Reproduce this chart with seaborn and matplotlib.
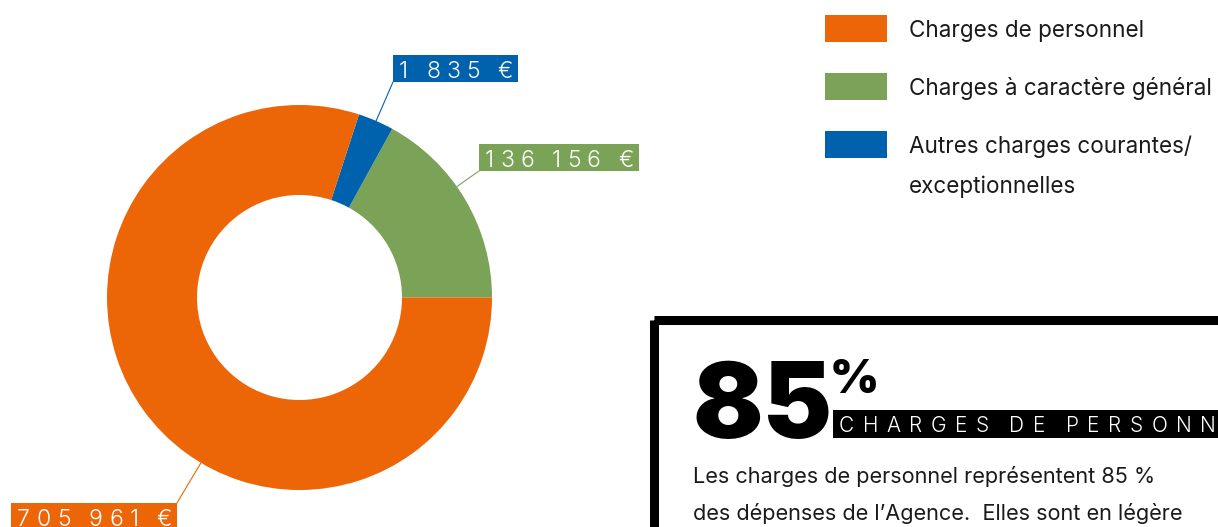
import numpy as np
import matplotlib.pyplot as plt
import matplotlib.patches as mpatches
import seaborn as sns

sns.set_theme(style="white")
plt.rcParams['font.family'] = ['Inter', 'DejaVu Sans']

# Data
categories = ["Charges de personnel",
              "Charges à caractère général",
              "Autres charges courantes/\nexceptionnelles"]
amounts = ["705 961 €", "136 156 €", "1 835 €"]
shares = [80.0, 17.0, 3.0]  # share of the ring as drawn (%)
colors = sns.color_palette(["#EC6608", "#7BA357", "#0062AC"])

headline = "85"
headline_unit = "%"
headline_label = "CHARGES DE PERSONNEL"
body_lines = ["Les charges de personnel représentent 85 %",
              "des dépenses de l’Agence.  Elles sont en légère"]

# Layout (pixels, y down)
W, H = 1218, 527
CX, CY, R, RING = 299.5, 297.5, 192.5, 90
# label box corner the leader line points at, and side of the box
label_corner = [(177, 503, 'right'), (479, 171, 'left'), (393, 82, 'left')]


def tracked_text(ax, x, y, s, track, space, ha='left', **kw):
    """Draw text char by char with extra letter spacing; returns (x0, x1)."""
    r = ax.figure.canvas.get_renderer()
    arts, offs, pos = [], [], 0.0
    for ch in s:
        if ch == ' ':
            pos += space
            continue
        t = ax.text(0, y, ch, ha='left', va='baseline', **kw)
        w = t.get_window_extent(r).width
        arts.append(t)
        offs.append(pos)
        pos += w + track
    total = pos - track
    x0 = x - total if ha == 'right' else x
    for t, o in zip(arts, offs):
        t.set_x(x0 + o)
    return x0, x0 + total


fig = plt.figure(figsize=(W / 100, H / 100), dpi=100)
ax = fig.add_axes([0, 0, 1, 1])

# Donut: starts at 3 o'clock, goes anticlockwise green -> blue -> orange
order = [1, 2, 0]
ax.pie([shares[i] for i in order], colors=[colors[i] for i in order],
       center=(CX, CY), radius=R, startangle=0, counterclock=False,
       wedgeprops=dict(width=RING, linewidth=0))
ax.set_xlim(0, W)
ax.set_ylim(H, 0)
ax.set_aspect('auto')
ax.axis('off')

# Value labels with radial leader lines
lab_kw = dict(fontsize=16.5, fontweight=300, color='white', zorder=5)
for i, (bx, by, side) in enumerate(label_corner):
    ang = np.arctan2(by - CY, bx - CX)
    sx, sy = CX + R * np.cos(ang), CY + R * np.sin(ang)
    ax.plot([sx, bx], [sy, by], color=colors[i], lw=0.8, zorder=3)
    if side == 'left':
        base = by - 4
        x0, x1 = tracked_text(ax, bx + 6, base, amounts[i], 6, 12, **lab_kw)
        rect_x0, rect_x1 = bx, x1 + 5
    else:
        base = by + 23
        x0, x1 = tracked_text(ax, bx - 5, base, amounts[i], 6.3, 12,
                              ha='right', **lab_kw)
        rect_x0, rect_x1 = x0 - 6, bx
    ax.add_patch(mpatches.Rectangle((rect_x0, base - 23), rect_x1 - rect_x0, 27,
                                    color=colors[i], lw=0, zorder=4))

# Legend
for i, lab in enumerate(categories):
    y = 15 + 58 * i
    ax.add_patch(mpatches.Rectangle((825, y), 62, 27, color=colors[i], lw=0))
    for k, line in enumerate(lab.split("\n")):
        ax.text(909, y + 22.5 + 40 * k, line, fontsize=16.2, color='#1a1a1a',
                va='baseline', ha='left')

# Highlight box
ax.add_patch(mpatches.Rectangle((654, 320), 700, 400, fill=False,
                                ec='black', lw=6.5, zorder=2))
ax.text(693, 438, headline, fontsize=75, fontweight='black',
        color='black', va='baseline', ha='left')
ax.text(830, 393, headline_unit, fontsize=34, fontweight='black',
        color='black', va='baseline', ha='left')
ax.add_patch(mpatches.Rectangle((833, 410), 500, 28, color='black', lw=0))
tracked_text(ax, 839, 432, headline_label, 8.5, 12,
             fontsize=15, fontweight=300, color='white', zorder=5)
for k, line in enumerate(body_lines):
    ax.text(693, 483 + 37 * k, line, fontsize=15.6, color='#1a1a1a',
            va='baseline', ha='left')

fig.savefig("out.png", dpi=100)
